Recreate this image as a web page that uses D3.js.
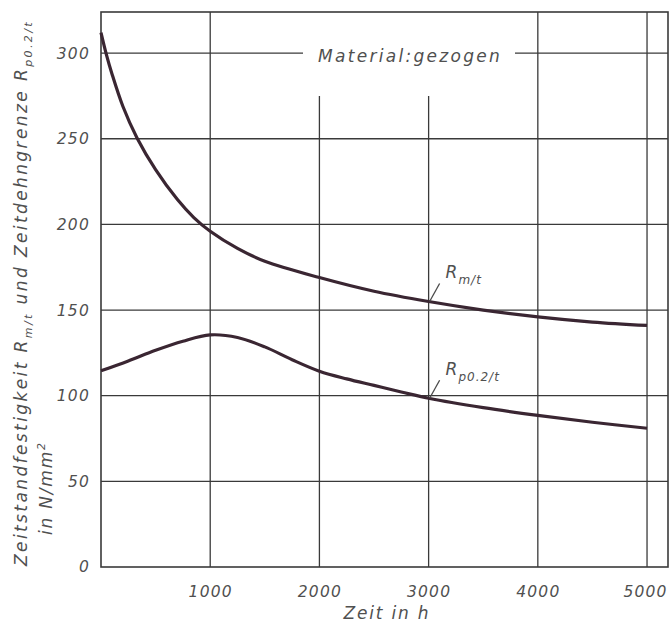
<!DOCTYPE html>
<html><head><meta charset="utf-8">
<script src="https://cdn.jsdelivr.net/npm/d3@7"></script>
<style>
html,body{margin:0;padding:0;background:#fff;}
text{font-family:"DejaVu Sans",sans-serif;font-style:italic;fill:#505050;}
</style></head>
<body><svg id="c" width="672" height="626"></svg>
<script>
// ---- data ----
const timeH   = [0, 50, 100, 200, 330, 500, 700, 850, 1000, 1250, 1500, 2000, 2500, 3000, 3500, 4000, 4500, 5000];
const rmT     = [312, 299, 288, 269, 250.5, 232, 214.5, 204, 196, 186, 178.5, 169, 161, 155, 150, 146, 143, 141];
const timeH2  = [0, 250, 500, 750, 1000, 1250, 1500, 1750, 2000, 2250, 2500, 2750, 3000, 3500, 4000, 4500, 5000];
const rp02T   = [114.5, 120.3, 126.5, 131.8, 135.5, 134, 128.5, 121, 114.3, 109.8, 106, 102.2, 98.5, 93, 88.5, 84.5, 81];
const xTicks  = [1000, 2000, 3000, 4000, 5000];
const yTicks  = [0, 50, 100, 150, 200, 250, 300];

const svg = d3.select("#c");
const L = 101, R = 668, T = 12, B = 567;
const x = d3.scaleLinear().domain([0, 5192]).range([L, R]);
const y = d3.scaleLinear().domain([0, 324]).range([B, T]);

const grid = svg.append("g").attr("stroke", "#3a3a3a").attr("stroke-width", 1.3).attr("fill", "none");
// horizontal grid lines
yTicks.filter(v => v > 0).forEach(v => {
  if (v === 300) {
    grid.append("line").attr("x1", L).attr("x2", 303).attr("y1", y(v)).attr("y2", y(v));
    grid.append("line").attr("x1", 515).attr("x2", R).attr("y1", y(v)).attr("y2", y(v));
  } else {
    grid.append("line").attr("x1", L).attr("x2", R).attr("y1", y(v)).attr("y2", y(v));
  }
});
// vertical grid lines
xTicks.forEach(v => {
  const top = (v === 2000 || v === 3000) ? y(275) : T;
  grid.append("line").attr("x1", x(v)).attr("x2", x(v)).attr("y1", top).attr("y2", B);
});
// frame
grid.append("rect").attr("x", L).attr("y", T).attr("width", R - L).attr("height", B - T).attr("stroke-width", 1.6);

// axes labels via d3 axes (no lines)
const xa = svg.append("g").attr("transform", `translate(0,${B})`)
  .call(d3.axisBottom(x).tickValues(xTicks).tickFormat(d3.format("d")).tickSize(0).tickPadding(19));
xa.select(".domain").remove();
xa.selectAll("text").attr("font-size", 15.5).attr("font-family", "DejaVu Sans").attr("letter-spacing", 1.2).style("font-style","italic").attr("fill", "#505050");
xa.selectAll(".tick").filter(d => d === 5000).select("text").attr("dx", -2);

const ya = svg.append("g").attr("transform", `translate(${L},0)`)
  .call(d3.axisLeft(y).tickValues(yTicks).tickFormat(d3.format("d")).tickSize(0).tickPadding(11));
ya.select(".domain").remove();
ya.selectAll("text").attr("font-size", 15.5).attr("font-family", "DejaVu Sans").attr("letter-spacing", 1.2).style("font-style","italic").attr("fill", "#505050");

// curves
const line = d3.line().x(d => x(d[0])).y(d => y(d[1])).curve(d3.curveCatmullRom.alpha(0.5));
const cs = svg.append("g").attr("fill", "none").attr("stroke", "#3a2632").attr("stroke-width", 3.2).attr("stroke-linecap", "butt");
cs.append("path").attr("d", line(timeH.map((t, i) => [t, rmT[i]])));
cs.append("path").attr("d", line(timeH2.map((t, i) => [t, rp02T[i]])));

// annotations
function annot(t, v, label, sub) {
  const px = x(t), py = y(v);
  svg.append("line").attr("x1", px + 1).attr("y1", py).attr("x2", px + 11).attr("y2", py - 18)
    .attr("stroke", "#4a4a4a").attr("stroke-width", 1.3);
  const tx = svg.append("text").attr("x", px + 17).attr("y", py - 23).attr("font-size", 17).attr("letter-spacing", 1);
  tx.append("tspan").text(label);
  tx.append("tspan").attr("dy", 6).attr("font-size", 12).text(sub);
}
annot(3000, 155, "R", "m/t");
annot(3000, 98.5, "R", "p0.2/t");

// top label
svg.append("text").attr("x", 318).attr("y", 62).attr("font-size", 17).attr("letter-spacing", 2.3).text("Material:gezogen");

// x title
svg.append("text").attr("x", 387).attr("y", 619).attr("text-anchor", "middle").attr("font-size", 17).attr("letter-spacing", 1.8).text("Zeit in h");

// y title
const yt = svg.append("text").attr("transform", "translate(27,566) rotate(-90)").attr("font-size", 17).attr("letter-spacing", 2.4);
yt.append("tspan").text("Zeitstandfestigkeit R");
yt.append("tspan").attr("dy", 5).attr("font-size", 11).text("m/t");
yt.append("tspan").attr("dy", -5).text(" und Zeitdehngrenze R");
yt.append("tspan").attr("dy", 5).attr("font-size", 11).text("p0.2/t");
const yt2 = svg.append("text").attr("transform", "translate(52,535) rotate(-90)").attr("font-size", 17).attr("letter-spacing", 1.8);
yt2.append("tspan").text("in N/mm");
yt2.append("tspan").attr("dy", -7).attr("font-size", 11).text("2");
</script></body></html>
